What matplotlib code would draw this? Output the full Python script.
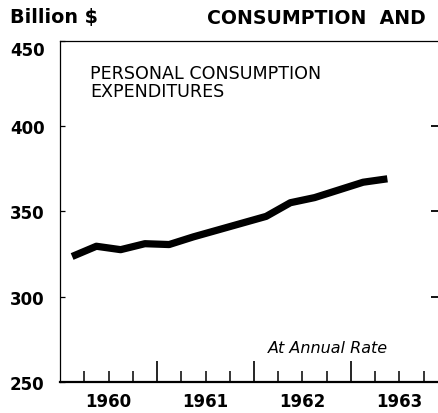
import matplotlib
matplotlib.use("Agg")
import matplotlib.pyplot as plt
import matplotlib.transforms as mtransforms
import numpy as np

# Quarterly data (mid-quarter positions), billion $ at annual rate
quarters = [1960.125, 1960.375, 1960.625, 1960.875,
            1961.125, 1961.375, 1961.625, 1961.875,
            1962.125, 1962.375, 1962.625, 1962.875,
            1963.125, 1963.375]
pce = [323.5, 329.5, 327.5, 331.0,
       330.5, 335.0, 339.0, 343.0,
       347.0, 355.0, 358.0, 362.5,
       367.0, 369.0]

years = [1960, 1961, 1962, 1963]
year_labels = ["1960", "1961", "1962", "1963"]
yticks = [250, 300, 350, 400, 450]
ytick_labels = ["250", "300", "350", "400", "450"]

AX_W = 385  # px, right edge falls just outside the picture
fig = plt.figure(figsize=(4.39, 4.14), dpi=100)
fig.patch.set_facecolor("white")
ax = fig.add_axes([60/439, 31/414, AX_W/439, 341.5/414])

ax.plot(quarters, pce, color="black", lw=5.2, solid_capstyle="butt",
        solid_joinstyle="round")

ax.set_xlim(1960.0, 1960.0 + AX_W/97)
ax.set_ylim(250, 450)

for s in ["left", "top"]:
    ax.spines[s].set_linewidth(0.9)
ax.spines["right"].set_visible(False)
ax.spines["bottom"].set_linewidth(1.6)

# x ticks: year boundaries (major) and quarters (minor), pointing inward
ax.set_xticks([1961, 1962, 1963])
ax.set_xticks([y + q for y in years for q in (0.25, 0.5, 0.75)], minor=True)
ax.tick_params(axis="x", which="major", direction="in", length=15, width=1.2,
               labelbottom=False, top=False)
ax.tick_params(axis="x", which="minor", direction="in", length=8, width=1.1,
               top=False)

# y ticks
ax.set_yticks(yticks)
ax.set_yticklabels(ytick_labels, fontfamily="DejaVu Sans", fontweight="bold",
                   fontsize=12)
ax.tick_params(axis="y", which="major", direction="in", length=3.5, width=0.9,
               right=True, pad=11)
for lab in ax.get_yticklabels():
    if lab.get_text() == "450":
        lab.set_transform(lab.get_transform() +
                          mtransforms.ScaledTranslation(0, -7/100, fig.dpi_scale_trans))
for val, t in zip(yticks, ax.yaxis.get_major_ticks()):
    t.tick2line.set_markersize(10)
    t.tick2line.set_markeredgewidth(1.3)
    if val in (250, 450):
        t.tick2line.set_visible(False)

# year labels centred in each year
trans = mtransforms.blended_transform_factory(ax.transData, ax.transAxes)
for y, lab in zip(years, year_labels):
    ax.text(y + 0.5, -19/341.5, lab, transform=trans, ha="center", va="center",
            fontfamily="DejaVu Sans", fontweight="bold", fontsize=12)

ax.text(30/AX_W, (383-65)/341.5, "PERSONAL CONSUMPTION\nEXPENDITURES",
        transform=ax.transAxes, ha="left", va="top", fontsize=12.6,
        fontfamily="DejaVu Sans", linespacing=0.98)
ax.text((388-60)/AX_W, (383-349)/341.5, "At Annual Rate", transform=ax.transAxes,
        ha="right", va="center", fontsize=11.5, fontstyle="italic",
        fontfamily="DejaVu Sans")

fig.text(10/439, 1 - 18/414, "Billion $", ha="left", va="center",
         fontsize=13.8, fontweight="bold", fontfamily="DejaVu Sans")
fig.text(207/439, 1 - 18/414, "CONSUMPTION  AND", ha="left", va="center",
         fontsize=13.6, fontweight="bold", fontfamily="DejaVu Sans")

fig.savefig("out.png", dpi=100, facecolor="white")
